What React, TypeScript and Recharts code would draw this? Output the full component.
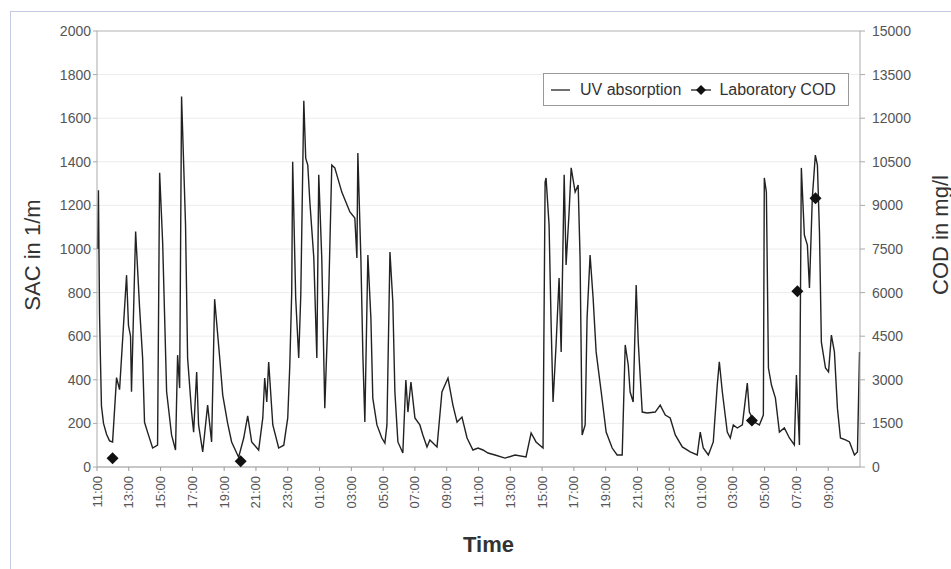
import React from 'react';
import { ComposedChart, Line, Scatter, XAxis, YAxis, CartesianGrid, ReferenceLine } from 'recharts';

// hours since 11:00 on day 1
const uvHours = [
  0.03, 0.09, 0.16, 0.22, 0.28, 0.41, 0.6, 0.79, 0.98, 1.23, 1.42, 1.86, 1.98, 2.11, 2.17, 2.43, 2.68, 2.87, 2.99, 3.18,
  3.5, 3.81, 3.94, 4.13, 4.38, 4.69, 4.94, 5.07, 5.2, 5.32, 5.57, 5.7, 5.95, 6.08, 6.27, 6.39, 6.65, 6.96, 7.21, 7.4,
  7.72, 7.91, 8.22, 8.47, 8.91, 9.23, 9.48, 9.73, 10.17, 10.43, 10.55, 10.68, 10.8, 11.06, 11.43, 11.75, 12.0, 12.13, 12.25, 12.31,
  12.5, 12.69, 12.82, 13.01, 13.13, 13.26, 13.39, 13.64, 13.83, 13.95, 14.14, 14.33, 14.58, 14.77, 14.96, 15.4, 15.91, 16.22, 16.35, 16.41,
  16.6, 16.73, 16.85, 17.04, 17.23, 17.35, 17.61, 17.92, 18.11, 18.24, 18.43, 18.61, 18.74, 18.93, 19.24, 19.43, 19.56, 19.75, 20.0, 20.31,
  20.5, 20.76, 20.94, 21.39, 21.7, 22.08, 22.39, 22.65, 22.96, 23.28, 23.65, 23.97, 24.28, 24.6, 25.04, 25.67, 26.3, 26.99, 27.31, 27.62,
  28.06, 28.19, 28.25, 28.44, 28.57, 28.69, 28.88, 29.07, 29.2, 29.39, 29.51, 29.7, 29.83, 30.08, 30.27, 30.39, 30.52, 30.71, 30.83, 31.02,
  31.21, 31.4, 31.72, 32.03, 32.41, 32.72, 33.04, 33.23, 33.42, 33.54, 33.73, 33.92, 34.05, 34.3, 34.61, 35.12, 35.43, 35.75, 36.06, 36.38,
  36.82, 37.32, 37.76, 37.95, 38.14, 38.46, 38.77, 39.02, 39.15, 39.34, 39.65, 39.84, 40.03, 40.28, 40.6, 40.91, 41.04, 41.35, 41.67, 41.92,
  41.98, 42.11, 42.24, 42.43, 42.68, 42.93, 43.24, 43.56, 43.87, 44.0, 44.19, 44.31, 44.5, 44.69, 44.82, 45.0, 45.19, 45.32, 45.45, 45.57,
  45.83, 46.02, 46.2, 46.39, 46.58, 46.77, 47.09, 47.34, 47.65, 47.84, 47.97,
];

const uvSac = [
  1000, 1270, 700, 480, 280, 200, 150, 120, 115, 410, 355, 880, 650, 600, 345, 1080, 730, 500, 205, 160,
  87, 100, 1350, 1030, 345, 147, 78, 513, 362, 1700, 1110, 500, 252, 160, 436, 193, 69, 284, 115, 770,
  500, 330, 200, 115, 45, 133, 235, 115, 78, 225, 408, 298, 482, 193, 87, 100, 225, 468, 803, 1400,
  775, 500, 789, 1680, 1417, 1385, 1216, 959, 500, 1340, 959, 270, 803, 1385, 1372, 1261, 1170, 1142, 959, 1440,
  959, 500, 206, 972, 683, 316, 193, 133, 110, 193, 986, 757, 344, 115, 64, 399, 252, 390, 225, 193,
  147, 92, 124, 92, 344, 408, 284, 206, 229, 133, 78, 87, 78, 64, 55, 41, 55, 46, 156, 115,
  87, 1307, 1326, 1110, 651, 298, 560, 867, 528, 1340, 927, 1170, 1372, 1261, 1294, 959, 147, 193, 683, 972,
  775, 528, 344, 160, 87, 55, 55, 560, 468, 344, 298, 835, 573, 252, 248, 252, 284, 238, 225, 147,
  92, 69, 55, 160, 87, 55, 115, 376, 482, 344, 160, 133, 193, 179, 193, 385, 252, 206, 193, 238,
  1326, 1261, 454, 376, 316, 160, 179, 133, 101, 422, 101, 1372, 1064, 1018, 821, 1234, 1431, 1385, 1078, 573,
  454, 436, 605, 528, 270, 133, 124, 115, 55, 69, 528,
];

const codHours = [0.98, 9.04, 41.2, 44.06, 45.2];
const codValues = [300, 200, 1600, 6050, 9250];

const timeTicks = [0, 2, 4, 6, 8, 10, 12, 14, 16, 18, 20, 22, 24, 26, 28, 30, 32, 34, 36, 38, 40, 42, 44, 46];
const sacTicks = [0, 200, 400, 600, 800, 1000, 1200, 1400, 1600, 1800, 2000];
const codTicks = [0, 1500, 3000, 4500, 6000, 7500, 9000, 10500, 12000, 13500, 15000];

const uvData = uvHours.map((t, i) => ({ t, sac: uvSac[i] }));
const codData = codHours.map((t, i) => ({ t, cod: codValues[i] }));

const FONT = '"Liberation Sans", Arial, sans-serif';

const clock = (h: number) => String((11 + h) % 24).padStart(2, '0') + ':00';

const XTick = ({ x, y, payload }: any) => (
  <text
    x={x}
    y={y}
    transform={`rotate(-90, ${x}, ${y})`}
    textAnchor="end"
    dominantBaseline="central"
    fontSize={13}
    fill="#555"
    fontFamily={FONT}
  >
    {clock(payload.value)}
  </text>
);

const Diamond = (props: any) => {
  const { cx, cy } = props;
  if (cx == null || cy == null) return null;
  return <polygon points={`${cx},${cy - 6} ${cx + 6},${cy} ${cx},${cy + 6} ${cx - 6},${cy}`} fill="#111" />;
};

// legend drawn as a plain box over the plot so it does not eat chart space
const LegendBox = () => (
  <div
    style={{
      position: 'absolute',
      left: 543,
      top: 73,
      width: 306,
      height: 33,
      border: '1px solid #999',
      background: '#fff',
      boxSizing: 'border-box',
      display: 'flex',
      alignItems: 'center',
      fontFamily: FONT,
      fontSize: 16,
      color: '#333',
      paddingLeft: 6,
    }}
  >
    <svg width={22} height={10} style={{ marginRight: 8 }}>
      <line x1={1} y1={5} x2={20} y2={5} stroke="#222" strokeWidth={1.3} />
    </svg>
    <span>UV absorption</span>
    <svg width={24} height={12} style={{ marginLeft: 8, marginRight: 6 }}>
      <line x1={2} y1={6} x2={22} y2={6} stroke="#222" strokeWidth={1.3} />
      <polygon points="12,1 17,6 12,11 7,6" fill="#111" />
    </svg>
    <span>Laboratory COD</span>
  </div>
);

export default function App() {
  return (
    <div style={{ position: 'absolute', left: 0, top: 0, width: 951, height: 569, background: '#fff', overflow: 'hidden' }}>
      <div
        style={{
          position: 'absolute',
          left: 10,
          top: 11,
          width: 960,
          height: 580,
          borderLeft: '1px solid #c3cbe2',
          borderTop: '1px solid #c3cbe2',
        }}
      />
      <div style={{ position: 'absolute', left: 0, top: 0 }}>
        <ComposedChart width={951} height={569} margin={{ top: 31, right: 0, bottom: 42, left: 0 }}>
          <CartesianGrid vertical={false} stroke="#ececec" yAxisId="left" />
          <XAxis
            dataKey="t"
            type="number"
            domain={[0, 48]}
            ticks={timeTicks}
            interval={0}
            height={60}
            tick={<XTick />}
            tickSize={4}
            tickMargin={5}
            stroke="#999"
            allowDuplicatedCategory={false}
            label={{
              content: ({ viewBox }: any) => (
                <text
                  x={viewBox.x + viewBox.width / 2 + 10}
                  y={552}
                  textAnchor="middle"
                  fontSize={22}
                  fontWeight="bold"
                  fill="#333"
                  fontFamily={FONT}
                >
                  Time
                </text>
              ),
            }}
          />
          <YAxis
            yAxisId="left"
            orientation="left"
            width={97}
            domain={[0, 2000]}
            ticks={sacTicks}
            interval={0}
            tickSize={4}
            tickMargin={2}
            stroke="#aaa"
            tick={{ fontSize: 14, fill: '#555', fontFamily: FONT }}
            label={{
              content: ({ viewBox }: any) => {
                const cx = 32;
                const cy = viewBox.y + viewBox.height / 2 + 6;
                return (
                  <text
                    x={cx}
                    y={cy}
                    transform={`rotate(-90, ${cx}, ${cy})`}
                    textAnchor="middle"
                    dominantBaseline="central"
                    fontSize={22}
                    fill="#333"
                    fontFamily={FONT}
                  >
                    SAC in 1/m
                  </text>
                );
              },
            }}
          />
          <YAxis
            yAxisId="right"
            orientation="right"
            width={91}
            domain={[0, 15000]}
            ticks={codTicks}
            interval={0}
            tickSize={5}
            tickMargin={7}
            stroke="#aaa"
            tick={{ fontSize: 14, fill: '#555', fontFamily: FONT }}
            label={{
              content: ({ viewBox }: any) => {
                const cx = 940;
                const cy = viewBox.y + viewBox.height / 2 - 14;
                return (
                  <text
                    x={cx}
                    y={cy}
                    transform={`rotate(-90, ${cx}, ${cy})`}
                    textAnchor="middle"
                    dominantBaseline="central"
                    fontSize={22}
                    fill="#333"
                    fontFamily={FONT}
                  >
                    COD in mg/l
                  </text>
                );
              },
            }}
          />
          <ReferenceLine yAxisId="left" y={2000} stroke="#bbb" />
          <Line
            yAxisId="left"
            data={uvData}
            dataKey="sac"
            type="linear"
            stroke="#222"
            strokeWidth={1.4}
            dot={false}
            isAnimationActive={false}
            name="UV absorption"
          />
          <Scatter
            yAxisId="right"
            data={codData}
            dataKey="cod"
            fill="#111"
            shape={<Diamond />}
            isAnimationActive={false}
            name="Laboratory COD"
          />
        </ComposedChart>
      </div>
      <LegendBox />
    </div>
  );
}
